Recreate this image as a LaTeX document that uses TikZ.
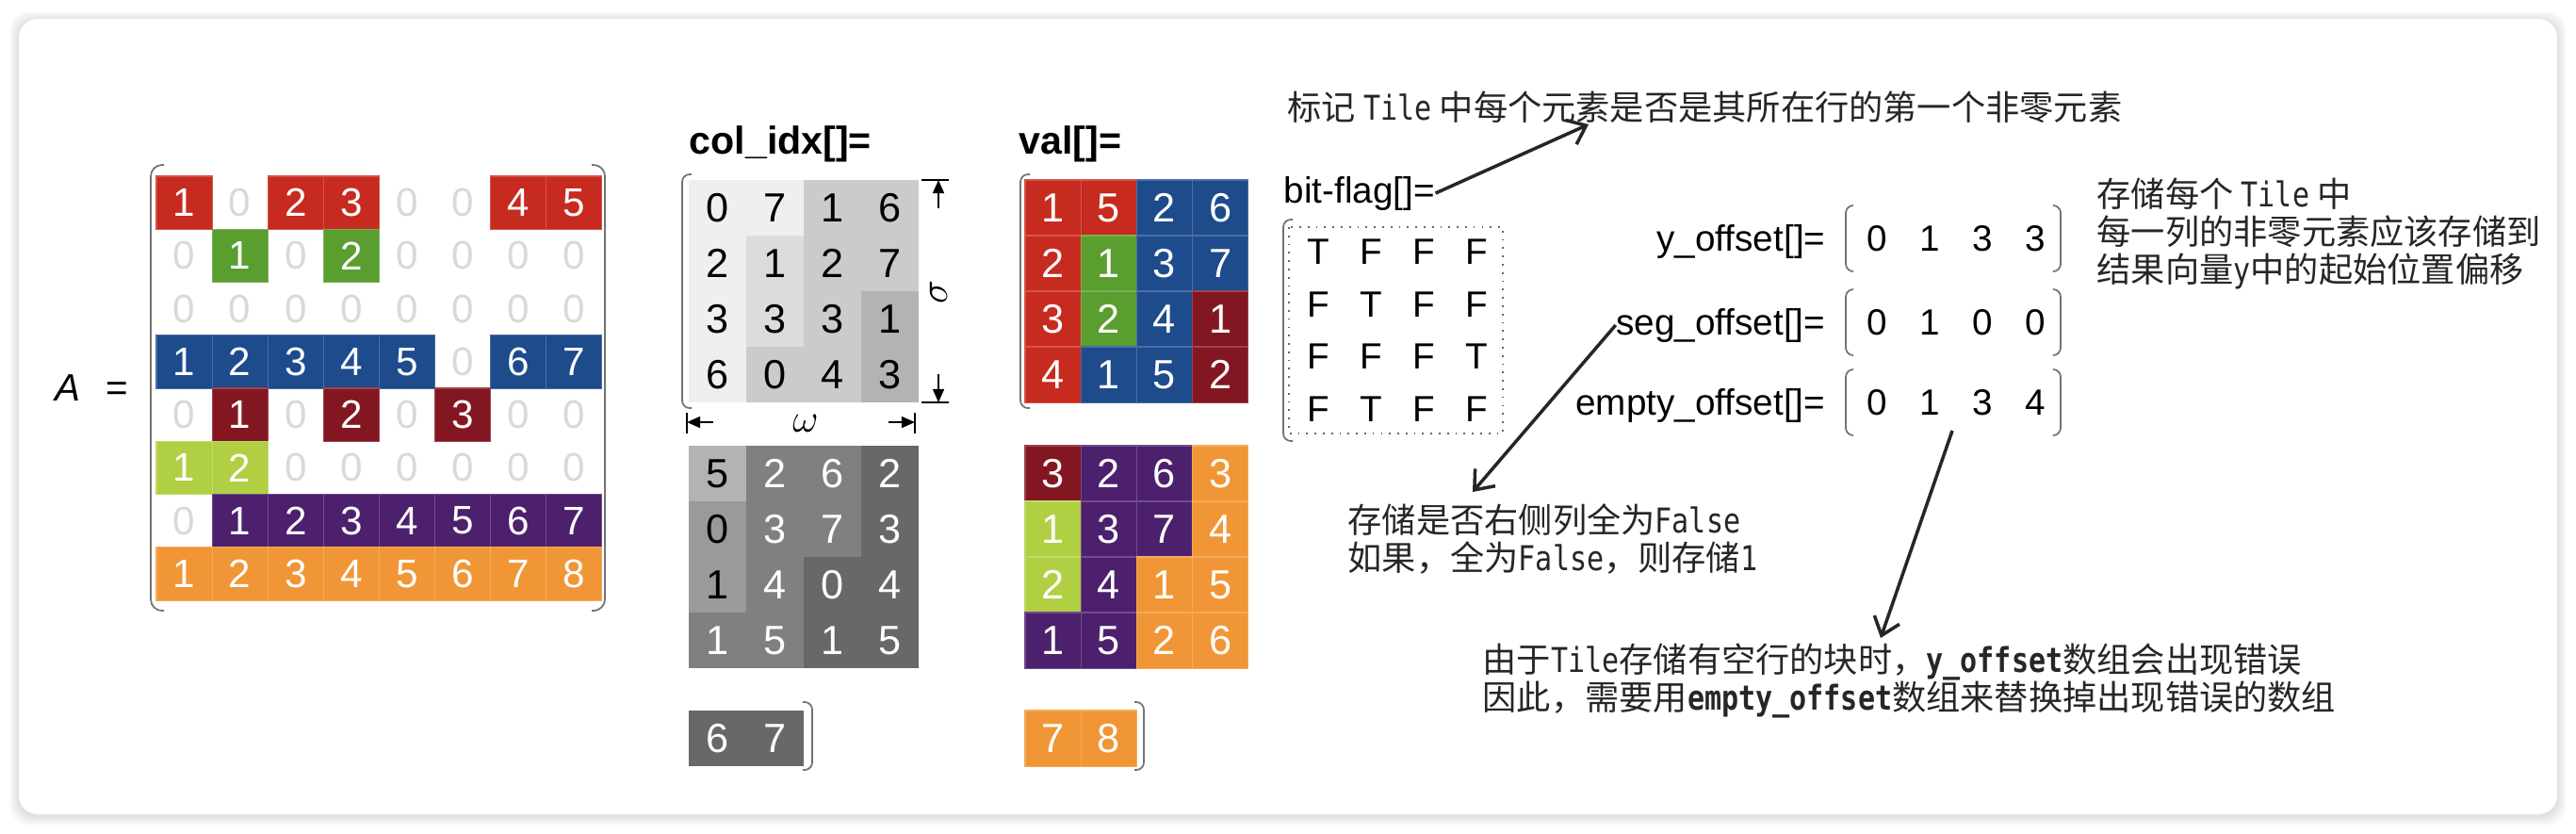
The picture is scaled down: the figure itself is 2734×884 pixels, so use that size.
\documentclass[tikz,border=0pt]{standalone}
\usepackage{fontspec}
\setmainfont{Liberation Sans}
\newfontfamily\cjk{Noto Sans CJK SC}
\newfontfamily\monofnt[FakeStretch=0.83]{DejaVu Sans Mono}
\usepackage{tikz}
\usetikzlibrary{arrows.meta}
% row colours of A and the matching greys of col_idx
\definecolor{cA}{HTML}{C72A1F}
\definecolor{cB}{HTML}{5A9E2F}
\definecolor{cC}{HTML}{1D4B8C}
\definecolor{cD}{HTML}{831721}
\definecolor{cE}{HTML}{B1CF43}
\definecolor{cF}{HTML}{4C206D}
\definecolor{cG}{HTML}{F19636}
\definecolor{gA}{HTML}{EFEFEF}
\definecolor{gB}{HTML}{DCDCDC}
\definecolor{gC}{HTML}{CBCBCB}
\definecolor{gD}{HTML}{B3B3B3}
\definecolor{gE}{HTML}{9A9A9A}
\definecolor{gF}{HTML}{808080}
\definecolor{gG}{HTML}{686868}
\colorlet{tA}{black}
\colorlet{tB}{black}
\colorlet{tC}{black}
\colorlet{tD}{black}
\colorlet{tE}{black}
\colorlet{tF}{white}
\colorlet{tG}{white}
\definecolor{zerogray}{HTML}{D9D9D9}

\tikzset{
  % matrix cells
  acell/.style={rectangle, minimum width=0.591cm, minimum height=0.5625cm,
    inner sep=0pt, text=white, font=\fontsize{12}{12}\selectfont},
  azero/.style={acell, text=zerogray},
  idxcell/.style={rectangle, minimum width=0.61cm, minimum height=0.59cm,
    inner sep=0pt, font=\fontsize{12.3}{12}\selectfont},
  valcell/.style={idxcell, minimum width=0.592cm, text=white},
  flagcell/.style={inner sep=0pt, font=\fontsize{11}{11}\selectfont},
  offcell/.style={inner sep=0pt, font=\fontsize{11}{11}\selectfont},
  % labels and notes
  lbl/.style={inner sep=0pt, font=\fontsize{11}{11}\selectfont},
  boldlbl/.style={inner sep=0pt, font=\bfseries\fontsize{11.7}{12}\selectfont},
  note/.style={inner sep=0pt, align=left, text=black!85,
    font=\cjk\fontsize{10.3}{11.4}\selectfont},
  % lines
  brk/.style={draw=black!55, line width=0.5pt, rounded corners=0.08cm},
  notearrow/.style={draw=black!85, line width=1pt,
    -{Straight Barb[length=5pt, width=8pt]}},
  dimline/.style={line width=0.5pt},
  dimarrow/.style={dimline, -{Triangle[length=4pt, width=3.4pt]}},
}

% one entry of A: row, column, value, colour
\newcommand{\acell}[4]{%
  \ifnum#3=0\relax
    \node[azero] (a-#1-#2) at ({136.45+59.1*#2},{158.9+56.25*#1}) {0};
  \else
    \node[acell, fill=#4, draw=#4!80!white, line width=0.3pt] (a-#1-#2)
      at ({136.45+59.1*#2},{158.9+56.25*#1}) {#3};
  \fi}
% one row of col_idx / val: name, top, value/colour key list
\newcommand{\idxrow}[3]{%
  \foreach \v/\k [count=\c] in {#3}
    {\node[idxcell, fill=g\k, text=t\k] (#1-\c) at ({700.5+61*\c},{#2+29.5}) {\v};}}
\newcommand{\valrow}[3]{%
  \foreach \v/\k [count=\c] in {#3}
    {\node[valcell, fill=c\k, draw=c\k!80!white, line width=0.3pt] (#1-\c)
      at ({1058.4+59.2*\c},{#2+29.5}) {\v};}}

\begin{document}
\begin{tikzpicture}[x=0.01cm, y=-0.01cm]
  \useasboundingbox (0,0) rectangle (2734,884);
  % Card with soft shadow
  \foreach \s in {1,...,10}
    \fill[black, opacity=0.01, rounded corners=0.2cm]
      ({20-\s},{22-\s}) rectangle ({2714+\s},{866+\s});
  \fill[white, rounded corners=0.2cm] (20,20) rectangle (2714,864);

  % Matrix A
  \node[inner sep=0pt, anchor=base west, font=\fontsize{11.5}{11}\selectfont]
    (aname) at (58,425) {\textit{A}\hspace{0.27cm}=};
  \foreach \v [count=\c] in {1,0,2,3,0,0,4,5} {\acell{1}{\c}{\v}{cA}}
  \foreach \v [count=\c] in {0,1,0,2,0,0,0,0} {\acell{2}{\c}{\v}{cB}}
  \foreach \v [count=\c] in {0,0,0,0,0,0,0,0} {\acell{3}{\c}{\v}{cA}}
  \foreach \v [count=\c] in {1,2,3,4,5,0,6,7} {\acell{4}{\c}{\v}{cC}}
  \foreach \v [count=\c] in {0,1,0,2,0,3,0,0} {\acell{5}{\c}{\v}{cD}}
  \foreach \v [count=\c] in {1,2,0,0,0,0,0,0} {\acell{6}{\c}{\v}{cE}}
  \foreach \v [count=\c] in {0,1,2,3,4,5,6,7} {\acell{7}{\c}{\v}{cF}}
  \foreach \v [count=\c] in {1,2,3,4,5,6,7,8} {\acell{8}{\c}{\v}{cG}}
  \draw[brk, rounded corners=0.12cm] (174,175) -- (160,175) -- (160,648) -- (174,648);
  \draw[brk, rounded corners=0.12cm] (628,175) -- (642,175) -- (642,648) -- (628,648);

  % col_idx
  \node[boldlbl, anchor=base west] (idxlbl) at (731,163) {col\_idx[]=};
  \idxrow{i1}{191}{0/A,7/A,1/C,6/C}
  \idxrow{i2}{250}{2/A,1/B,2/C,7/C}
  \idxrow{i3}{309}{3/A,3/B,3/C,1/D}
  \idxrow{i4}{368}{6/A,0/C,4/C,3/D}
  \idxrow{i5}{473}{5/D,2/F,6/F,2/G}
  \idxrow{i6}{532}{0/E,3/F,7/F,3/G}
  \idxrow{i7}{591}{1/E,4/F,0/G,4/G}
  \idxrow{i8}{650}{1/F,5/F,1/G,5/G}
  \idxrow{i9}{754}{6/G,7/G}
  \draw[brk] (734,185) -- (724,185) -- (724,433) -- (734,433);
  \draw[brk] (852,745) -- (862,745) -- (862,817) -- (852,817);
  % tile size
  \draw[dimline] (729,438) -- (729,460);
  \draw[dimline] (971,438) -- (971,460);
  \node[font=\fontsize{13}{13}\selectfont, inner sep=0pt] (omega) at (855,449) {$\omega$};
  \draw[dimarrow] (757,448) -- (729,448);
  \draw[dimarrow] (943,448) -- (971,448);
  \draw[dimline] (978,191) -- (1007,191);
  \draw[dimline] (978,427) -- (1007,427);
  \node[font=\fontsize{13}{13}\selectfont, inner sep=0pt, rotate=90] (sigma) at (996,310) {$\sigma$};
  \draw[dimarrow] (996,221) -- (996,191);
  \draw[dimarrow] (996,397) -- (996,427);

  % val
  \node[boldlbl, anchor=base west] (vallbl) at (1081,163) {val[]=};
  \valrow{v1}{191}{1/A,5/A,2/C,6/C}
  \valrow{v2}{250}{2/A,1/B,3/C,7/C}
  \valrow{v3}{309}{3/A,2/B,4/C,1/D}
  \valrow{v4}{368}{4/A,1/C,5/C,2/D}
  \valrow{v5}{473}{3/D,2/F,6/F,3/G}
  \valrow{v6}{532}{1/E,3/F,7/F,4/G}
  \valrow{v7}{591}{2/E,4/F,1/G,5/G}
  \valrow{v8}{650}{1/F,5/F,2/G,6/G}
  \valrow{v9}{754}{7/G,8/G}
  \draw[brk] (1093,185) -- (1083,185) -- (1083,433) -- (1093,433);
  \draw[brk] (1204,745) -- (1214,745) -- (1214,817) -- (1204,817);

  % bit-flag
  \node[lbl, anchor=base west] (flaglbl) at (1362,215) {bit-flag[]=};
  \draw[dotted, draw=black!60, line width=0.5pt] (1368,241) rectangle (1595,460);
  \draw[brk] (1372,233) -- (1362,233) -- (1362,468) -- (1372,468);
  \foreach \row/\yy in {{T,F,F,F}/267, {F,T,F,F}/323, {F,F,F,T}/378, {F,T,F,F}/434}
    \foreach \f [count=\c] in \row
      \node[flagcell] (flag-\yy-\c) at ({1343+56*\c},\yy) {\f};

  % offset arrays
  \node[lbl, anchor=east] (ylbl) at (1938,256) {y\_offset[]=};
  \node[lbl, anchor=east] (seglbl) at (1938,345) {seg\_offset[]=};
  \node[lbl, anchor=east] (emptylbl) at (1938,430) {empty\_offset[]=};
  \foreach \name/\yy/\vals in {yoff/253/{0,1,3,3}, segoff/342/{0,1,0,0}, emptyoff/427/{0,1,3,4}} {
    \foreach \v [count=\c] in \vals
      \node[offcell] (\name-\c) at ({1936+56*\c},\yy) {\v};
    \draw[brk] (1967,{\yy-35}) -- (1959,{\yy-35}) -- (1959,{\yy+35}) -- (1967,{\yy+35});
    \draw[brk] (2179,{\yy-35}) -- (2187,{\yy-35}) -- (2187,{\yy+35}) -- (2179,{\yy+35});
  }

  % Notes
  \node[note, anchor=west] (flagnote) at (1366,114)
    {标记 {\monofnt Tile} 中每个元素是否是其所在行的第一个非零元素};
  \node[note, anchor=west] (yoffnote) at (2225,248)
    {存储每个 {\monofnt Tile} 中\\每一列的非零元素应该存储到\\结果向量{\monofnt y}中的起始位置偏移};
  \node[note, anchor=west] (segnote) at (1430,572)
    {存储是否右侧列全为{\monofnt False}\\如果，全为{\monofnt False}，则存储{\monofnt 1}};
  \node[note, anchor=west] (emptynote) at (1573,722)
    {由于{\monofnt Tile}存储有空行的块时，{\monofnt\bfseries y\_offset}数组会出现错误\\因此，需要用{\monofnt\bfseries empty\_offset}数组来替换掉出现错误的数组};

  % Arrows
  \coordinate (flagtip) at (1686,132);
  \coordinate (segtip) at (1563,522);
  \coordinate (emptytail) at (2072,457);
  \coordinate (emptytip) at (1996,677);
  \draw[notearrow] (flaglbl.east) -- (flagtip);
  \draw[notearrow] (seglbl.west) -- (segtip);
  \draw[notearrow] (emptytail) -- (emptytip);
\end{tikzpicture}
\end{document}
